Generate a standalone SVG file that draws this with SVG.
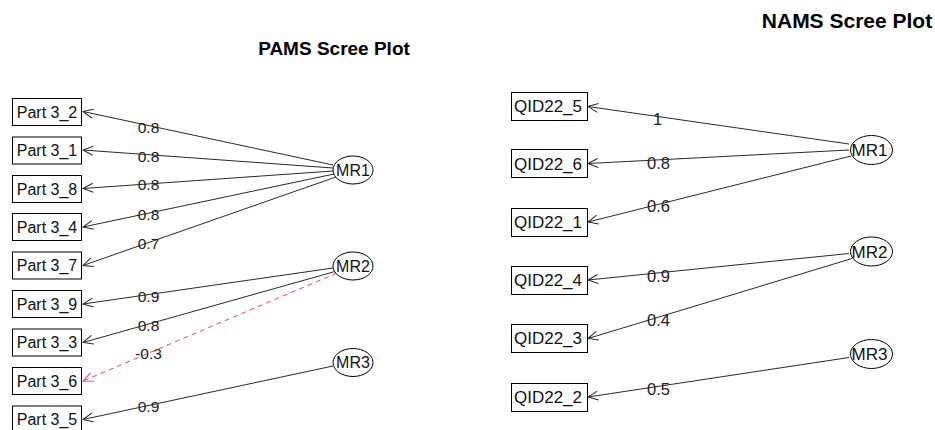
<svg xmlns="http://www.w3.org/2000/svg" width="935" height="430" viewBox="0 0 935 430">
  <style>
    .title { font-family: "Liberation Sans", Arial, sans-serif; font-weight: bold; fill: #000; text-anchor: middle; }
    .box { fill: #fff; stroke: #000; stroke-width: 1; }
    .lat { fill: #fff; stroke: #000; stroke-width: 1; }
    .ltxt { font-family: "Liberation Sans", Arial, sans-serif; font-size: 16px; fill: #111; text-anchor: middle; }
    .rtxt { font-family: "Liberation Sans", Arial, sans-serif; font-size: 17px; fill: #111; text-anchor: middle; }
    .edge { stroke: #2a2a2a; stroke-width: 1; fill: none; marker-end: url(#arr); }
    .neg { stroke: #e2466a; stroke-width: 1; stroke-dasharray: 5 4; fill: none; marker-end: url(#arrRed); }
    .elab { font-family: "Liberation Sans", Arial, sans-serif; font-size: 15.5px; fill: #222; text-anchor: middle; }
    .elabR { font-family: "Liberation Sans", Arial, sans-serif; font-size: 16.5px; fill: #222; text-anchor: middle; }
  </style>
  <defs>
    <marker id="arr" markerUnits="userSpaceOnUse" orient="auto" markerWidth="20" markerHeight="20" refX="0" refY="0" viewBox="-12 -10 14 20" overflow="visible">
      <path d="M-10,-4.5 L0,0 L-10,4.5" fill="none" stroke="#2a2a2a" stroke-width="1"/>
    </marker>
    <marker id="arrRed" markerUnits="userSpaceOnUse" orient="auto" markerWidth="20" markerHeight="20" refX="0" refY="0" viewBox="-12 -10 14 20" overflow="visible">
      <path d="M-10,-4.5 L0,0 L-10,4.5" fill="none" stroke="#e2466a" stroke-width="1"/>
    </marker>
  </defs>

  <rect width="935" height="430" fill="#fff"/>

  <text class="title" x="334" y="55" font-size="19">PAMS Scree Plot</text>
  <text class="title" x="847" y="28" font-size="21">NAMS Scree Plot</text>

  <!-- connectors: loadings from factors to items -->
  <g id="connectors">
    <!-- PAMS -->
    <line class="edge" x1="333" y1="165" x2="83" y2="111.5"/>
    <line class="edge" x1="333" y1="168" x2="83" y2="150"/>
    <line class="edge" x1="333" y1="171" x2="83" y2="188.5"/>
    <line class="edge" x1="334" y1="174" x2="83" y2="227"/>
    <line class="edge" x1="336" y1="177" x2="83" y2="265.5"/>
    <line class="edge" x1="333" y1="268" x2="83" y2="304"/>
    <line class="edge" x1="335" y1="271.5" x2="83" y2="342.5"/>
    <line class="neg" x1="337" y1="273" x2="83" y2="381"/>
    <line class="edge" x1="333" y1="366" x2="83" y2="419.5"/>
    <!-- NAMS -->
    <line class="edge" x1="849" y1="144" x2="588" y2="106.5"/>
    <line class="edge" x1="849" y1="150" x2="588" y2="163.5"/>
    <line class="edge" x1="851" y1="156" x2="588" y2="222"/>
    <line class="edge" x1="849" y1="253.5" x2="588" y2="280"/>
    <line class="edge" x1="852" y1="258.5" x2="588" y2="338.5"/>
    <line class="edge" x1="849" y1="357.5" x2="588" y2="397"/>

    <text class="elab" x="148.5" y="133">0.8</text>
    <text class="elab" x="148.5" y="161.5">0.8</text>
    <text class="elab" x="148.5" y="190">0.8</text>
    <text class="elab" x="148.5" y="220">0.8</text>
    <text class="elab" x="148.5" y="248.5">0.7</text>
    <text class="elab" x="148.5" y="301.5">0.9</text>
    <text class="elab" x="148.5" y="330.5">0.8</text>
    <text class="elab" x="148.5" y="359">-0.3</text>
    <text class="elab" x="148.5" y="411.5">0.9</text>

    <text class="elabR" x="657.5" y="124.5">1</text>
    <text class="elabR" x="658.5" y="168.5">0.8</text>
    <text class="elabR" x="658.5" y="211.5">0.6</text>
    <text class="elabR" x="658.5" y="281.5">0.9</text>
    <text class="elabR" x="658.5" y="326">0.4</text>
    <text class="elabR" x="658.5" y="394.5">0.5</text>
  </g>

  <!-- PAMS items -->
  <g id="p3_2"><rect class="box" x="12.5" y="98.5" width="69" height="27"/><text class="ltxt" x="47" y="117.5">Part 3_2</text></g>
  <g id="p3_1"><rect class="box" x="12.5" y="137" width="69" height="27"/><text class="ltxt" x="47" y="156">Part 3_1</text></g>
  <g id="p3_8"><rect class="box" x="12.5" y="175.5" width="69" height="27"/><text class="ltxt" x="47" y="194.5">Part 3_8</text></g>
  <g id="p3_4"><rect class="box" x="12.5" y="213.5" width="69" height="27"/><text class="ltxt" x="47" y="232.5">Part 3_4</text></g>
  <g id="p3_7"><rect class="box" x="12.5" y="252" width="69" height="27"/><text class="ltxt" x="47" y="271">Part 3_7</text></g>
  <g id="p3_9"><rect class="box" x="12.5" y="290.5" width="69" height="27"/><text class="ltxt" x="47" y="309.5">Part 3_9</text></g>
  <g id="p3_3"><rect class="box" x="12.5" y="329" width="69" height="27"/><text class="ltxt" x="47" y="348">Part 3_3</text></g>
  <g id="p3_6"><rect class="box" x="12.5" y="367.5" width="69" height="27"/><text class="ltxt" x="47" y="386.5">Part 3_6</text></g>
  <g id="p3_5"><rect class="box" x="12.5" y="406" width="69" height="27"/><text class="ltxt" x="47" y="425">Part 3_5</text></g>

  <!-- PAMS factors -->
  <g id="pMR1"><ellipse class="lat" cx="353" cy="170" rx="20" ry="14"/><text class="ltxt" x="353" y="175.5" font-size="15">MR1</text></g>
  <g id="pMR2"><ellipse class="lat" cx="353" cy="266" rx="20" ry="14"/><text class="ltxt" x="353" y="271.5" font-size="15">MR2</text></g>
  <g id="pMR3"><ellipse class="lat" cx="353" cy="362.5" rx="20" ry="14"/><text class="ltxt" x="353" y="368" font-size="15">MR3</text></g>

  <!-- NAMS items -->
  <g id="q5"><rect class="box" x="511.5" y="92.5" width="76" height="28"/><text class="rtxt" x="548" y="112">QID22_5</text></g>
  <g id="q6"><rect class="box" x="511.5" y="149.5" width="76" height="28"/><text class="rtxt" x="548" y="169.5">QID22_6</text></g>
  <g id="q1"><rect class="box" x="511.5" y="208.5" width="76" height="28"/><text class="rtxt" x="548" y="228">QID22_1</text></g>
  <g id="q4"><rect class="box" x="511.5" y="266.5" width="76" height="28"/><text class="rtxt" x="548" y="286">QID22_4</text></g>
  <g id="q3"><rect class="box" x="511.5" y="324.5" width="76" height="28"/><text class="rtxt" x="548" y="344">QID22_3</text></g>
  <g id="q2"><rect class="box" x="511.5" y="383.5" width="76" height="28"/><text class="rtxt" x="548" y="403">QID22_2</text></g>

  <!-- NAMS factors -->
  <g id="nMR1"><ellipse class="lat" cx="871.5" cy="150" rx="21" ry="14.5"/><text class="rtxt" x="869.5" y="156" font-size="16.5">MR1</text></g>
  <g id="nMR2"><ellipse class="lat" cx="871.5" cy="251.5" rx="21" ry="14.5"/><text class="rtxt" x="869.5" y="257.5" font-size="16.5">MR2</text></g>
  <g id="nMR3"><ellipse class="lat" cx="871.5" cy="354" rx="21" ry="14.5"/><text class="rtxt" x="869.5" y="360" font-size="16.5">MR3</text></g>
</svg>
